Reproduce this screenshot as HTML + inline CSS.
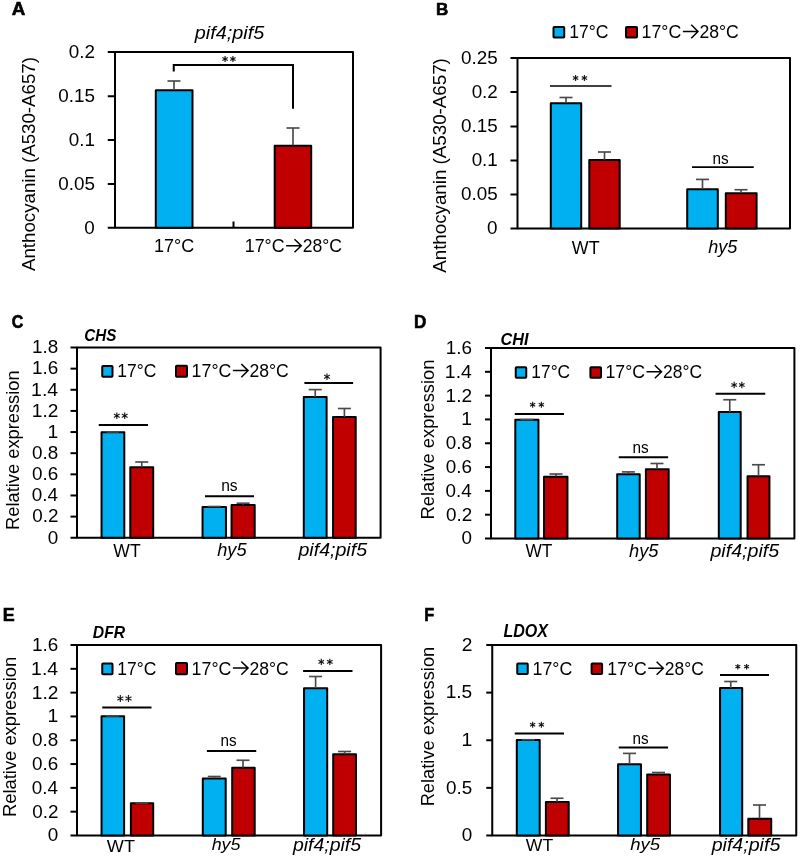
<!DOCTYPE html>
<html><head><meta charset="utf-8"><style>
html,body{margin:0;padding:0;background:#fff;width:800px;height:858px;overflow:hidden}
svg{display:block;will-change:transform}
text{font-family:"Liberation Sans",sans-serif;font-size:100px;fill:#000}
</style></head><body>
<svg width="800" height="858" viewBox="0 0 800 858">
<rect width="800" height="858" fill="#fff"/>
<path d="M115 227.75 L115 52 L353 52 L353 227.75 Z" fill="none" stroke="#000" stroke-width="2" stroke-linejoin="round"/>
<line x1="107.75" y1="227.75" x2="115" y2="227.75" stroke="#000" stroke-width="2" stroke-linecap="butt"/>
<line x1="107.75" y1="184" x2="115" y2="184" stroke="#000" stroke-width="2" stroke-linecap="butt"/>
<line x1="107.75" y1="140" x2="115" y2="140" stroke="#000" stroke-width="2" stroke-linecap="butt"/>
<line x1="107.75" y1="96.25" x2="115" y2="96.25" stroke="#000" stroke-width="2" stroke-linecap="butt"/>
<line x1="107.75" y1="52" x2="115" y2="52" stroke="#000" stroke-width="2" stroke-linecap="butt"/>
<line x1="233.5" y1="221.5" x2="233.5" y2="227.75" stroke="#000" stroke-width="2" stroke-linecap="butt"/>
<rect x="155.8" y="90.2" width="36.69999999999999" height="137.55" fill="#00B0F0" stroke="#000" stroke-width="2" stroke-linejoin="round"/>
<rect x="274.7" y="145.79999999999998" width="36.5" height="81.95000000000002" fill="#C00000" stroke="#000" stroke-width="2" stroke-linejoin="round"/>
<line x1="174" y1="81" x2="174" y2="90" stroke="#4a4a4a" stroke-width="1.65" stroke-linecap="butt"/>
<line x1="167.5" y1="81" x2="180.5" y2="81" stroke="#4a4a4a" stroke-width="1.65" stroke-linecap="butt"/>
<line x1="293" y1="128" x2="293" y2="145.6" stroke="#4a4a4a" stroke-width="1.65" stroke-linecap="butt"/>
<line x1="286.5" y1="128" x2="299.5" y2="128" stroke="#4a4a4a" stroke-width="1.65" stroke-linecap="butt"/>
<path d="M173.75 71.5 L173.75 65 L293 65 L293 108.75" fill="none" stroke="#000" stroke-width="2"/>
<path d="M225.08 55.90 L225.08 62.10 M222.40 57.45 L227.77 60.55 M222.40 60.55 L227.77 57.45 " fill="none" stroke="#222" stroke-width="1.2" stroke-linecap="butt"/><circle cx="225.08" cy="59.00" r="0.75" fill="#000"/>
<path d="M232.92 55.90 L232.92 62.10 M230.23 57.45 L235.60 60.55 M230.23 60.55 L235.60 57.45 " fill="none" stroke="#222" stroke-width="1.2" stroke-linecap="butt"/><circle cx="232.92" cy="59.00" r="0.75" fill="#000"/>
<path d="M286.10 245.74 L301.25 245.74 M294.51 239.24 L301.25 245.74 L294.51 252.24" fill="none" stroke="#000" stroke-width="1.5" stroke-linejoin="miter"/>
<rect x="553.5" y="27.0" width="10.75" height="10.5" fill="#00B0F0" stroke="#000" stroke-width="2" rx="0.8"/>
<rect x="626.0" y="27.0" width="11" height="10.5" fill="#C00000" stroke="#000" stroke-width="2" rx="0.8"/>
<path d="M682.85 31.48 L698.00 31.48 M691.26 24.73 L698.00 31.48 L691.26 38.23" fill="none" stroke="#000" stroke-width="1.5" stroke-linejoin="miter"/>
<path d="M517.5 228.5 L517.5 58 L790 58 L790 228.5 Z" fill="none" stroke="#000" stroke-width="2" stroke-linejoin="round"/>
<line x1="510.5" y1="228.5" x2="517.5" y2="228.5" stroke="#000" stroke-width="2" stroke-linecap="butt"/>
<line x1="510.5" y1="194.5" x2="517.5" y2="194.5" stroke="#000" stroke-width="2" stroke-linecap="butt"/>
<line x1="510.5" y1="160.5" x2="517.5" y2="160.5" stroke="#000" stroke-width="2" stroke-linecap="butt"/>
<line x1="510.5" y1="126.5" x2="517.5" y2="126.5" stroke="#000" stroke-width="2" stroke-linecap="butt"/>
<line x1="510.5" y1="92" x2="517.5" y2="92" stroke="#000" stroke-width="2" stroke-linecap="butt"/>
<line x1="510.5" y1="58" x2="517.5" y2="58" stroke="#000" stroke-width="2" stroke-linecap="butt"/>
<rect x="550.8" y="103.2" width="30.40000000000009" height="125.3" fill="#00B0F0" stroke="#000" stroke-width="2" stroke-linejoin="round"/>
<rect x="589.3" y="159.95" width="30.40000000000009" height="68.55000000000001" fill="#C00000" stroke="#000" stroke-width="2" stroke-linejoin="round"/>
<line x1="566" y1="97.5" x2="566" y2="103" stroke="#4a4a4a" stroke-width="1.65" stroke-linecap="butt"/>
<line x1="559.5" y1="97.5" x2="572.5" y2="97.5" stroke="#4a4a4a" stroke-width="1.65" stroke-linecap="butt"/>
<line x1="604.5" y1="152" x2="604.5" y2="159.75" stroke="#4a4a4a" stroke-width="1.65" stroke-linecap="butt"/>
<line x1="598.0" y1="152" x2="611.0" y2="152" stroke="#4a4a4a" stroke-width="1.65" stroke-linecap="butt"/>
<line x1="550" y1="86" x2="611.5" y2="86" stroke="#000" stroke-width="1.6" stroke-linecap="butt"/>
<path d="M575.58 74.90 L575.58 81.10 M572.90 76.45 L578.27 79.55 M572.90 79.55 L578.27 76.45 " fill="none" stroke="#222" stroke-width="1.2" stroke-linecap="butt"/><circle cx="575.58" cy="78.00" r="0.75" fill="#000"/>
<path d="M584.42 74.90 L584.42 81.10 M581.73 76.45 L587.10 79.55 M581.73 79.55 L587.10 76.45 " fill="none" stroke="#222" stroke-width="1.2" stroke-linecap="butt"/><circle cx="584.42" cy="78.00" r="0.75" fill="#000"/>
<rect x="687.1999999999999" y="189.2" width="30.600000000000136" height="39.30000000000001" fill="#00B0F0" stroke="#000" stroke-width="2" stroke-linejoin="round"/>
<rect x="725.8" y="193.29999999999998" width="30.800000000000068" height="35.20000000000002" fill="#C00000" stroke="#000" stroke-width="2" stroke-linejoin="round"/>
<line x1="702.5" y1="179.4" x2="702.5" y2="189" stroke="#4a4a4a" stroke-width="1.65" stroke-linecap="butt"/>
<line x1="696.0" y1="179.4" x2="709.0" y2="179.4" stroke="#4a4a4a" stroke-width="1.65" stroke-linecap="butt"/>
<line x1="741" y1="189.75" x2="741" y2="193.1" stroke="#4a4a4a" stroke-width="1.65" stroke-linecap="butt"/>
<line x1="734.5" y1="189.75" x2="747.5" y2="189.75" stroke="#4a4a4a" stroke-width="1.65" stroke-linecap="butt"/>
<line x1="692" y1="167.1" x2="753.75" y2="167.1" stroke="#000" stroke-width="1.6" stroke-linecap="butt"/>
<rect x="102.25" y="366.0" width="10.25" height="10.75" fill="#00B0F0" stroke="#000" stroke-width="2" rx="0.8"/>
<rect x="176.0" y="365.75" width="11" height="11.0" fill="#C00000" stroke="#000" stroke-width="2" rx="0.8"/>
<path d="M232.89 370.61 L248.06 370.61 M241.31 363.99 L248.06 370.61 L241.31 377.24" fill="none" stroke="#000" stroke-width="1.5" stroke-linejoin="miter"/>
<path d="M77 537.75 L77 347.5 L380.6 347.5 L380.6 537.75 Z" fill="none" stroke="#000" stroke-width="2" stroke-linejoin="round"/>
<line x1="70.5" y1="537.75" x2="77" y2="537.75" stroke="#000" stroke-width="2" stroke-linecap="butt"/>
<line x1="70.5" y1="516.6111111111111" x2="77" y2="516.6111111111111" stroke="#000" stroke-width="2" stroke-linecap="butt"/>
<line x1="70.5" y1="495.47222222222223" x2="77" y2="495.47222222222223" stroke="#000" stroke-width="2" stroke-linecap="butt"/>
<line x1="70.5" y1="474.3333333333333" x2="77" y2="474.3333333333333" stroke="#000" stroke-width="2" stroke-linecap="butt"/>
<line x1="70.5" y1="453.19444444444446" x2="77" y2="453.19444444444446" stroke="#000" stroke-width="2" stroke-linecap="butt"/>
<line x1="70.5" y1="432.05555555555554" x2="77" y2="432.05555555555554" stroke="#000" stroke-width="2" stroke-linecap="butt"/>
<line x1="70.5" y1="410.9166666666667" x2="77" y2="410.9166666666667" stroke="#000" stroke-width="2" stroke-linecap="butt"/>
<line x1="70.5" y1="389.77777777777777" x2="77" y2="389.77777777777777" stroke="#000" stroke-width="2" stroke-linecap="butt"/>
<line x1="70.5" y1="368.6388888888889" x2="77" y2="368.6388888888889" stroke="#000" stroke-width="2" stroke-linecap="butt"/>
<line x1="70.5" y1="347.5" x2="77" y2="347.5" stroke="#000" stroke-width="2" stroke-linecap="butt"/>
<rect x="101.55" y="432.2" width="22.75" height="105.55000000000001" fill="#00B0F0" stroke="#000" stroke-width="2" stroke-linejoin="round"/>
<rect x="130.3" y="467.3" width="22.899999999999977" height="70.44999999999999" fill="#C00000" stroke="#000" stroke-width="2" stroke-linejoin="round"/>
<line x1="112.9" y1="432" x2="112.9" y2="432" stroke="#4a4a4a" stroke-width="1.65" stroke-linecap="butt"/>
<line x1="106.65" y1="432" x2="119.15" y2="432" stroke="#4a4a4a" stroke-width="1.65" stroke-linecap="butt"/>
<line x1="141.75" y1="462" x2="141.75" y2="467.1" stroke="#4a4a4a" stroke-width="1.65" stroke-linecap="butt"/>
<line x1="135.25" y1="462" x2="148.25" y2="462" stroke="#4a4a4a" stroke-width="1.65" stroke-linecap="butt"/>
<line x1="98.75" y1="425" x2="148" y2="425" stroke="#000" stroke-width="2" stroke-linecap="butt"/>
<path d="M116.80 412.40 L116.80 419.10 M113.90 414.07 L119.70 417.43 M113.90 417.43 L119.70 414.07 " fill="none" stroke="#222" stroke-width="1.2" stroke-linecap="butt"/><circle cx="116.80" cy="415.75" r="0.75" fill="#000"/>
<path d="M124.70 412.40 L124.70 419.10 M121.80 414.07 L127.60 417.43 M121.80 417.43 L127.60 414.07 " fill="none" stroke="#222" stroke-width="1.2" stroke-linecap="butt"/><circle cx="124.70" cy="415.75" r="0.75" fill="#000"/>
<rect x="202.55" y="507.09999999999997" width="23.399999999999977" height="30.650000000000034" fill="#00B0F0" stroke="#000" stroke-width="2" stroke-linejoin="round"/>
<rect x="231.55" y="504.95" width="23.149999999999977" height="32.80000000000001" fill="#C00000" stroke="#000" stroke-width="2" stroke-linejoin="round"/>
<line x1="214.25" y1="506.5" x2="214.25" y2="506.9" stroke="#4a4a4a" stroke-width="1.65" stroke-linecap="butt"/>
<line x1="207.75" y1="506.5" x2="220.75" y2="506.5" stroke="#4a4a4a" stroke-width="1.65" stroke-linecap="butt"/>
<line x1="243.1" y1="503.2" x2="243.1" y2="504.75" stroke="#4a4a4a" stroke-width="1.65" stroke-linecap="butt"/>
<line x1="236.6" y1="503.2" x2="249.6" y2="503.2" stroke="#4a4a4a" stroke-width="1.65" stroke-linecap="butt"/>
<line x1="205" y1="496.25" x2="254" y2="496.25" stroke="#000" stroke-width="2" stroke-linecap="butt"/>
<rect x="303.8" y="397.09999999999997" width="22.799999999999955" height="140.65000000000003" fill="#00B0F0" stroke="#000" stroke-width="2" stroke-linejoin="round"/>
<rect x="333.05" y="417.09999999999997" width="22.649999999999977" height="120.65000000000003" fill="#C00000" stroke="#000" stroke-width="2" stroke-linejoin="round"/>
<line x1="315.25" y1="389.6" x2="315.25" y2="396.9" stroke="#4a4a4a" stroke-width="1.65" stroke-linecap="butt"/>
<line x1="308.75" y1="389.6" x2="321.75" y2="389.6" stroke="#4a4a4a" stroke-width="1.65" stroke-linecap="butt"/>
<line x1="344.4" y1="408.5" x2="344.4" y2="416.9" stroke="#4a4a4a" stroke-width="1.65" stroke-linecap="butt"/>
<line x1="337.9" y1="408.5" x2="350.9" y2="408.5" stroke="#4a4a4a" stroke-width="1.65" stroke-linecap="butt"/>
<line x1="304.4" y1="383.1" x2="353.1" y2="383.1" stroke="#000" stroke-width="2" stroke-linecap="butt"/>
<path d="M327.00 373.40 L327.00 380.10 M324.10 375.07 L329.90 378.43 M324.10 378.43 L329.90 375.07 " fill="none" stroke="#222" stroke-width="1.2" stroke-linecap="butt"/><circle cx="327.00" cy="376.75" r="0.75" fill="#000"/>
<rect x="515.75" y="367.25" width="10.5" height="10.5" fill="#00B0F0" stroke="#000" stroke-width="2" rx="0.8"/>
<rect x="590.4" y="367.25" width="10.600000000000023" height="10.5" fill="#C00000" stroke="#000" stroke-width="2" rx="0.8"/>
<path d="M646.48 371.74 L661.53 371.74 M654.83 365.24 L661.53 371.74 L654.83 378.24" fill="none" stroke="#000" stroke-width="1.5" stroke-linejoin="miter"/>
<path d="M491 538.5 L491 348 L794.4 348 L794.4 538.5 Z" fill="none" stroke="#000" stroke-width="2" stroke-linejoin="round"/>
<line x1="485" y1="538.5" x2="491" y2="538.5" stroke="#000" stroke-width="2" stroke-linecap="butt"/>
<line x1="485" y1="514.6875" x2="491" y2="514.6875" stroke="#000" stroke-width="2" stroke-linecap="butt"/>
<line x1="485" y1="490.875" x2="491" y2="490.875" stroke="#000" stroke-width="2" stroke-linecap="butt"/>
<line x1="485" y1="467.0625" x2="491" y2="467.0625" stroke="#000" stroke-width="2" stroke-linecap="butt"/>
<line x1="485" y1="443.25" x2="491" y2="443.25" stroke="#000" stroke-width="2" stroke-linecap="butt"/>
<line x1="485" y1="419.4375" x2="491" y2="419.4375" stroke="#000" stroke-width="2" stroke-linecap="butt"/>
<line x1="485" y1="395.625" x2="491" y2="395.625" stroke="#000" stroke-width="2" stroke-linecap="butt"/>
<line x1="485" y1="371.8125" x2="491" y2="371.8125" stroke="#000" stroke-width="2" stroke-linecap="butt"/>
<line x1="485" y1="348.0" x2="491" y2="348.0" stroke="#000" stroke-width="2" stroke-linecap="butt"/>
<rect x="515.3" y="419.8" width="23.15000000000009" height="118.69999999999999" fill="#00B0F0" stroke="#000" stroke-width="2" stroke-linejoin="round"/>
<rect x="544.05" y="476.7" width="23.40000000000009" height="61.80000000000001" fill="#C00000" stroke="#000" stroke-width="2" stroke-linejoin="round"/>
<line x1="526.9" y1="419.6" x2="526.9" y2="419.6" stroke="#4a4a4a" stroke-width="1.65" stroke-linecap="butt"/>
<line x1="520.4" y1="419.6" x2="533.4" y2="419.6" stroke="#4a4a4a" stroke-width="1.65" stroke-linecap="butt"/>
<line x1="556" y1="474" x2="556" y2="476.5" stroke="#4a4a4a" stroke-width="1.65" stroke-linecap="butt"/>
<line x1="549.5" y1="474" x2="562.5" y2="474" stroke="#4a4a4a" stroke-width="1.65" stroke-linecap="butt"/>
<line x1="514.75" y1="414.1" x2="564" y2="414.1" stroke="#000" stroke-width="2" stroke-linecap="butt"/>
<path d="M532.62 401.80 L532.62 407.85 M530.00 403.31 L535.24 406.34 M530.00 406.34 L535.24 403.31 " fill="none" stroke="#222" stroke-width="1.2" stroke-linecap="butt"/><circle cx="532.62" cy="404.82" r="0.75" fill="#000"/>
<path d="M541.38 401.80 L541.38 407.85 M538.76 403.31 L544.00 406.34 M538.76 406.34 L544.00 403.31 " fill="none" stroke="#222" stroke-width="1.2" stroke-linecap="butt"/><circle cx="541.38" cy="404.82" r="0.75" fill="#000"/>
<rect x="617.1999999999999" y="474.2" width="22.500000000000114" height="64.30000000000001" fill="#00B0F0" stroke="#000" stroke-width="2" stroke-linejoin="round"/>
<rect x="645.9" y="469.2" width="22.800000000000068" height="69.30000000000001" fill="#C00000" stroke="#000" stroke-width="2" stroke-linejoin="round"/>
<line x1="628.4" y1="471.9" x2="628.4" y2="474" stroke="#4a4a4a" stroke-width="1.65" stroke-linecap="butt"/>
<line x1="621.9" y1="471.9" x2="634.9" y2="471.9" stroke="#4a4a4a" stroke-width="1.65" stroke-linecap="butt"/>
<line x1="657" y1="463.5" x2="657" y2="469" stroke="#4a4a4a" stroke-width="1.65" stroke-linecap="butt"/>
<line x1="650.5" y1="463.5" x2="663.5" y2="463.5" stroke="#4a4a4a" stroke-width="1.65" stroke-linecap="butt"/>
<line x1="618.75" y1="457.25" x2="668.1" y2="457.25" stroke="#000" stroke-width="2" stroke-linecap="butt"/>
<rect x="718.8" y="412.09999999999997" width="21.90000000000009" height="126.40000000000003" fill="#00B0F0" stroke="#000" stroke-width="2" stroke-linejoin="round"/>
<rect x="747.55" y="476.2" width="21.90000000000009" height="62.30000000000001" fill="#C00000" stroke="#000" stroke-width="2" stroke-linejoin="round"/>
<line x1="729.75" y1="399.75" x2="729.75" y2="411.9" stroke="#4a4a4a" stroke-width="1.65" stroke-linecap="butt"/>
<line x1="723.25" y1="399.75" x2="736.25" y2="399.75" stroke="#4a4a4a" stroke-width="1.65" stroke-linecap="butt"/>
<line x1="758.5" y1="464.75" x2="758.5" y2="476" stroke="#4a4a4a" stroke-width="1.65" stroke-linecap="butt"/>
<line x1="752.0" y1="464.75" x2="765.0" y2="464.75" stroke="#4a4a4a" stroke-width="1.65" stroke-linecap="butt"/>
<line x1="715.6" y1="393.75" x2="765.25" y2="393.75" stroke="#000" stroke-width="2" stroke-linecap="butt"/>
<path d="M734.17 381.80 L734.17 388.20 M731.40 383.40 L736.94 386.60 M731.40 386.60 L736.94 383.40 " fill="none" stroke="#222" stroke-width="1.2" stroke-linecap="butt"/><circle cx="734.17" cy="385.00" r="0.75" fill="#000"/>
<path d="M741.83 381.80 L741.83 388.20 M739.06 383.40 L744.60 386.60 M739.06 386.60 L744.60 383.40 " fill="none" stroke="#222" stroke-width="1.2" stroke-linecap="butt"/><circle cx="741.83" cy="385.00" r="0.75" fill="#000"/>
<rect x="102.25" y="663.5" width="10.25" height="10.75" fill="#00B0F0" stroke="#000" stroke-width="2" rx="0.8"/>
<rect x="176.0" y="663.0" width="11" height="11.25" fill="#C00000" stroke="#000" stroke-width="2" rx="0.8"/>
<path d="M232.89 668.11 L248.06 668.11 M241.31 661.49 L248.06 668.11 L241.31 674.74" fill="none" stroke="#000" stroke-width="1.5" stroke-linejoin="miter"/>
<path d="M77 835.5 L77 645 L381.1 645 L381.1 835.5 Z" fill="none" stroke="#000" stroke-width="2" stroke-linejoin="round"/>
<line x1="70.5" y1="835.5" x2="77" y2="835.5" stroke="#000" stroke-width="2" stroke-linecap="butt"/>
<line x1="70.5" y1="811.6875" x2="77" y2="811.6875" stroke="#000" stroke-width="2" stroke-linecap="butt"/>
<line x1="70.5" y1="787.875" x2="77" y2="787.875" stroke="#000" stroke-width="2" stroke-linecap="butt"/>
<line x1="70.5" y1="764.0625" x2="77" y2="764.0625" stroke="#000" stroke-width="2" stroke-linecap="butt"/>
<line x1="70.5" y1="740.25" x2="77" y2="740.25" stroke="#000" stroke-width="2" stroke-linecap="butt"/>
<line x1="70.5" y1="716.4375" x2="77" y2="716.4375" stroke="#000" stroke-width="2" stroke-linecap="butt"/>
<line x1="70.5" y1="692.625" x2="77" y2="692.625" stroke="#000" stroke-width="2" stroke-linecap="butt"/>
<line x1="70.5" y1="668.8125" x2="77" y2="668.8125" stroke="#000" stroke-width="2" stroke-linecap="butt"/>
<line x1="70.5" y1="645.0" x2="77" y2="645.0" stroke="#000" stroke-width="2" stroke-linecap="butt"/>
<rect x="101.55" y="716.2" width="22.55000000000001" height="119.29999999999995" fill="#00B0F0" stroke="#000" stroke-width="2" stroke-linejoin="round"/>
<rect x="130.9" y="803.2" width="22.299999999999983" height="32.299999999999955" fill="#C00000" stroke="#000" stroke-width="2" stroke-linejoin="round"/>
<line x1="112.8" y1="716" x2="112.8" y2="716" stroke="#4a4a4a" stroke-width="1.65" stroke-linecap="butt"/>
<line x1="106.3" y1="716" x2="119.3" y2="716" stroke="#4a4a4a" stroke-width="1.65" stroke-linecap="butt"/>
<line x1="142" y1="803" x2="142" y2="803" stroke="#4a4a4a" stroke-width="1.65" stroke-linecap="butt"/>
<line x1="135.5" y1="803" x2="148.5" y2="803" stroke="#4a4a4a" stroke-width="1.65" stroke-linecap="butt"/>
<line x1="102.25" y1="707.5" x2="151.5" y2="707.5" stroke="#000" stroke-width="2" stroke-linecap="butt"/>
<path d="M120.33 695.00 L120.33 702.00 M117.30 696.75 L123.36 700.25 M117.30 700.25 L123.36 696.75 " fill="none" stroke="#222" stroke-width="1.2" stroke-linecap="butt"/><circle cx="120.33" cy="698.50" r="0.75" fill="#000"/>
<path d="M128.47 695.00 L128.47 702.00 M125.44 696.75 L131.50 700.25 M125.44 700.25 L131.50 696.75 " fill="none" stroke="#222" stroke-width="1.2" stroke-linecap="butt"/><circle cx="128.47" cy="698.50" r="0.75" fill="#000"/>
<rect x="202.8" y="778.6" width="22.899999999999977" height="56.89999999999998" fill="#00B0F0" stroke="#000" stroke-width="2" stroke-linejoin="round"/>
<rect x="232.20000000000002" y="767.7" width="22.49999999999997" height="67.79999999999995" fill="#C00000" stroke="#000" stroke-width="2" stroke-linejoin="round"/>
<line x1="214.25" y1="776.5" x2="214.25" y2="778.4" stroke="#4a4a4a" stroke-width="1.65" stroke-linecap="butt"/>
<line x1="207.75" y1="776.5" x2="220.75" y2="776.5" stroke="#4a4a4a" stroke-width="1.65" stroke-linecap="butt"/>
<line x1="243" y1="760.25" x2="243" y2="767.5" stroke="#4a4a4a" stroke-width="1.65" stroke-linecap="butt"/>
<line x1="236.5" y1="760.25" x2="249.5" y2="760.25" stroke="#4a4a4a" stroke-width="1.65" stroke-linecap="butt"/>
<line x1="206.9" y1="751" x2="256.25" y2="751" stroke="#000" stroke-width="2" stroke-linecap="butt"/>
<rect x="304.05" y="688.2" width="23.149999999999977" height="147.29999999999995" fill="#00B0F0" stroke="#000" stroke-width="2" stroke-linejoin="round"/>
<rect x="333.2" y="754.3000000000001" width="22.75" height="81.19999999999993" fill="#C00000" stroke="#000" stroke-width="2" stroke-linejoin="round"/>
<line x1="315.6" y1="676.5" x2="315.6" y2="688" stroke="#4a4a4a" stroke-width="1.65" stroke-linecap="butt"/>
<line x1="309.1" y1="676.5" x2="322.1" y2="676.5" stroke="#4a4a4a" stroke-width="1.65" stroke-linecap="butt"/>
<line x1="344.6" y1="751.5" x2="344.6" y2="754.1" stroke="#4a4a4a" stroke-width="1.65" stroke-linecap="butt"/>
<line x1="338.1" y1="751.5" x2="351.1" y2="751.5" stroke="#4a4a4a" stroke-width="1.65" stroke-linecap="butt"/>
<line x1="303.1" y1="671" x2="352.5" y2="671" stroke="#000" stroke-width="2" stroke-linecap="butt"/>
<path d="M321.29 658.65 L321.29 665.10 M318.50 660.26 L324.09 663.49 M318.50 663.49 L324.09 660.26 " fill="none" stroke="#222" stroke-width="1.2" stroke-linecap="butt"/><circle cx="321.29" cy="661.88" r="0.75" fill="#000"/>
<path d="M329.81 658.65 L329.81 665.10 M327.01 660.26 L332.60 663.49 M327.01 663.49 L332.60 660.26 " fill="none" stroke="#222" stroke-width="1.2" stroke-linecap="butt"/><circle cx="329.81" cy="661.88" r="0.75" fill="#000"/>
<rect x="517.25" y="663.5" width="10.5" height="10.5" fill="#00B0F0" stroke="#000" stroke-width="2" rx="0.8"/>
<rect x="591.6" y="663.5" width="10.5" height="10.5" fill="#C00000" stroke="#000" stroke-width="2" rx="0.8"/>
<path d="M648.29 668.24 L663.32 668.24 M656.63 661.74 L663.32 668.24 L656.63 674.74" fill="none" stroke="#000" stroke-width="1.5" stroke-linejoin="miter"/>
<path d="M492.25 835.5 L492.25 645 L796.25 645 L796.25 835.5 Z" fill="none" stroke="#000" stroke-width="2" stroke-linejoin="round"/>
<line x1="486.25" y1="835.5" x2="492.25" y2="835.5" stroke="#000" stroke-width="2" stroke-linecap="butt"/>
<line x1="486.25" y1="787.875" x2="492.25" y2="787.875" stroke="#000" stroke-width="2" stroke-linecap="butt"/>
<line x1="486.25" y1="740.25" x2="492.25" y2="740.25" stroke="#000" stroke-width="2" stroke-linecap="butt"/>
<line x1="486.25" y1="692.625" x2="492.25" y2="692.625" stroke="#000" stroke-width="2" stroke-linecap="butt"/>
<line x1="486.25" y1="645.0" x2="492.25" y2="645.0" stroke="#000" stroke-width="2" stroke-linecap="butt"/>
<rect x="516.8" y="739.95" width="22.90000000000009" height="95.54999999999995" fill="#00B0F0" stroke="#000" stroke-width="2" stroke-linejoin="round"/>
<rect x="545.9" y="801.95" width="22.800000000000068" height="33.549999999999955" fill="#C00000" stroke="#000" stroke-width="2" stroke-linejoin="round"/>
<line x1="528.25" y1="739.75" x2="528.25" y2="739.75" stroke="#4a4a4a" stroke-width="1.65" stroke-linecap="butt"/>
<line x1="521.75" y1="739.75" x2="534.75" y2="739.75" stroke="#4a4a4a" stroke-width="1.65" stroke-linecap="butt"/>
<line x1="557" y1="798.25" x2="557" y2="801.75" stroke="#4a4a4a" stroke-width="1.65" stroke-linecap="butt"/>
<line x1="550.5" y1="798.25" x2="563.5" y2="798.25" stroke="#4a4a4a" stroke-width="1.65" stroke-linecap="butt"/>
<line x1="514.75" y1="733.5" x2="564" y2="733.5" stroke="#000" stroke-width="2" stroke-linecap="butt"/>
<path d="M532.62 721.80 L532.62 727.85 M530.00 723.31 L535.24 726.34 M530.00 726.34 L535.24 723.31 " fill="none" stroke="#222" stroke-width="1.2" stroke-linecap="butt"/><circle cx="532.62" cy="724.83" r="0.75" fill="#000"/>
<path d="M541.38 721.80 L541.38 727.85 M538.76 723.31 L544.00 726.34 M538.76 726.34 L544.00 723.31 " fill="none" stroke="#222" stroke-width="1.2" stroke-linecap="butt"/><circle cx="541.38" cy="724.83" r="0.75" fill="#000"/>
<rect x="618.05" y="764.2" width="22.90000000000009" height="71.29999999999995" fill="#00B0F0" stroke="#000" stroke-width="2" stroke-linejoin="round"/>
<rect x="647.1999999999999" y="774.6" width="22.750000000000114" height="60.89999999999998" fill="#C00000" stroke="#000" stroke-width="2" stroke-linejoin="round"/>
<line x1="629.5" y1="753.4" x2="629.5" y2="764" stroke="#4a4a4a" stroke-width="1.65" stroke-linecap="butt"/>
<line x1="623.0" y1="753.4" x2="636.0" y2="753.4" stroke="#4a4a4a" stroke-width="1.65" stroke-linecap="butt"/>
<line x1="658.5" y1="772.5" x2="658.5" y2="774.4" stroke="#4a4a4a" stroke-width="1.65" stroke-linecap="butt"/>
<line x1="652.0" y1="772.5" x2="665.0" y2="772.5" stroke="#4a4a4a" stroke-width="1.65" stroke-linecap="butt"/>
<line x1="618.75" y1="747.5" x2="668.1" y2="747.5" stroke="#000" stroke-width="2" stroke-linecap="butt"/>
<rect x="720.05" y="688.1" width="22.15000000000009" height="147.39999999999998" fill="#00B0F0" stroke="#000" stroke-width="2" stroke-linejoin="round"/>
<rect x="748.3" y="818.7" width="22.90000000000009" height="16.799999999999955" fill="#C00000" stroke="#000" stroke-width="2" stroke-linejoin="round"/>
<line x1="730.75" y1="681.5" x2="730.75" y2="687.9" stroke="#4a4a4a" stroke-width="1.65" stroke-linecap="butt"/>
<line x1="724.25" y1="681.5" x2="737.25" y2="681.5" stroke="#4a4a4a" stroke-width="1.65" stroke-linecap="butt"/>
<line x1="759.5" y1="805" x2="759.5" y2="818.5" stroke="#4a4a4a" stroke-width="1.65" stroke-linecap="butt"/>
<line x1="753.0" y1="805" x2="766.0" y2="805" stroke="#4a4a4a" stroke-width="1.65" stroke-linecap="butt"/>
<line x1="720" y1="675" x2="769" y2="675" stroke="#000" stroke-width="2" stroke-linecap="butt"/>
<path d="M737.82 663.90 L737.82 669.50 M735.40 665.30 L740.25 668.10 M735.40 668.10 L740.25 665.30 " fill="none" stroke="#222" stroke-width="1.2" stroke-linecap="butt"/><circle cx="737.82" cy="666.70" r="0.75" fill="#000"/>
<path d="M746.58 663.90 L746.58 669.50 M744.15 665.30 L749.00 668.10 M744.15 668.10 L749.00 665.30 " fill="none" stroke="#222" stroke-width="1.2" stroke-linecap="butt"/><circle cx="746.58" cy="666.70" r="0.75" fill="#000"/>
<text transform="matrix(0.18788 0 0 0.17500 11.736 14.875)" font-weight="bold" stroke="#000" stroke-width="3.31" stroke-linejoin="miter">A</text>
<text transform="matrix(0.19830 0 0 0.18511 194.797 39.113)" font-style="italic">pif4;pif5</text>
<text transform="matrix(0.18009 0 0 0.18310 154.059 252.317)">17°C</text>
<text transform="matrix(0.17807 0 0 0.18310 244.825 252.317)">17°C</text>
<text transform="matrix(0.17602 0 0 0.18310 302.702 252.317)">28°C</text>
<text transform="matrix(0 -0.18701 0.19149 0 34.729 271.000)">Anthocyanin (A530-A657)</text>
<text transform="matrix(0.17049 0 0 0.17246 436.107 14.700)" font-weight="bold" stroke="#000" stroke-width="3.50" stroke-linejoin="miter">B</text>
<text transform="matrix(0.17607 0 0 0.19014 569.191 38.310)">17°C</text>
<text transform="matrix(0.17807 0 0 0.19014 641.575 38.310)">17°C</text>
<text transform="matrix(0.17602 0 0 0.19014 699.452 38.310)">28°C</text>
<text transform="matrix(0.15368 0 0 0.15909 712.424 163.591)">ns</text>
<text transform="matrix(0.17895 0 0 0.18986 571.821 253.600)">WT</text>
<text transform="matrix(0.18082 0 0 0.18085 708.138 253.202)" font-style="italic">hy5</text>
<text transform="matrix(0 -0.18745 0.19149 0 445.979 272.750)">Anthocyanin (A530-A657)</text>
<text transform="matrix(0.16000 0 0 0.17465 11.660 327.525)" font-weight="bold" stroke="#000" stroke-width="3.59" stroke-linejoin="miter">C</text>
<text transform="matrix(0.15244 0 0 0.16690 84.238 341.083)" font-weight="bold" font-style="italic">CHS</text>
<text transform="matrix(0.17464 0 0 0.18310 117.353 377.317)">17°C</text>
<text transform="matrix(0.17826 0 0 0.18662 191.574 377.313)">17°C</text>
<text transform="matrix(0.17620 0 0 0.18662 249.512 377.313)">28°C</text>
<text transform="matrix(0.15632 0 0 0.15909 221.156 491.091)">ns</text>
<text transform="matrix(0.17599 0 0 0.18116 113.324 556.900)">WT</text>
<text transform="matrix(0.18239 0 0 0.18085 217.135 556.202)" font-style="italic">hy5</text>
<text transform="matrix(0.19589 0 0 0.17553 298.492 556.314)" font-style="italic">pif4;pif5</text>
<text transform="matrix(0 -0.18298 0.17926 0 19.336 529.964)">Relative expression</text>
<text transform="matrix(0.17049 0 0 0.17971 414.107 327.700)" font-weight="bold" stroke="#000" stroke-width="3.43" stroke-linejoin="miter">D</text>
<text transform="matrix(0.16272 0 0 0.16901 500.436 344.581)" font-weight="bold" font-style="italic">CHI</text>
<text transform="matrix(0.17370 0 0 0.18310 531.360 378.317)">17°C</text>
<text transform="matrix(0.17685 0 0 0.18310 605.485 378.317)">17°C</text>
<text transform="matrix(0.17481 0 0 0.18310 662.966 378.317)">28°C</text>
<text transform="matrix(0.15368 0 0 0.17000 632.424 452.930)">ns</text>
<text transform="matrix(0.17303 0 0 0.17754 525.427 557.250)">WT</text>
<text transform="matrix(0.18302 0 0 0.18085 629.034 556.702)" font-style="italic">hy5</text>
<text transform="matrix(0.19660 0 0 0.19149 710.393 556.979)" font-style="italic">pif4;pif5</text>
<text transform="matrix(0 -0.18328 0.18617 0 434.190 519.466)">Relative expression</text>
<text transform="matrix(0.17946 0 0 0.18188 2.794 620.950)" font-weight="bold" stroke="#000" stroke-width="3.32" stroke-linejoin="miter">E</text>
<text transform="matrix(0.15714 0 0 0.16304 92.786 637.500)" font-weight="bold" font-style="italic">DFR</text>
<text transform="matrix(0.17464 0 0 0.18310 117.353 674.817)">17°C</text>
<text transform="matrix(0.17826 0 0 0.18662 191.574 674.813)">17°C</text>
<text transform="matrix(0.17620 0 0 0.18662 249.512 674.813)">28°C</text>
<text transform="matrix(0.15263 0 0 0.16364 220.432 746.336)">ns</text>
<text transform="matrix(0.18092 0 0 0.15942 106.819 851.500)">WT</text>
<text transform="matrix(0.17925 0 0 0.15957 211.642 849.649)" font-style="italic">hy5</text>
<text transform="matrix(0.19476 0 0 0.18085 292.890 851.202)" font-style="italic">pif4;pif5</text>
<text transform="matrix(0 -0.18357 0.17979 0 16.224 816.969)">Relative expression</text>
<text transform="matrix(0.16300 0 0 0.18188 424.159 620.950)" font-weight="bold" stroke="#000" stroke-width="3.48" stroke-linejoin="miter">F</text>
<text transform="matrix(0.16071 0 0 0.17606 503.429 637.324)" font-weight="bold" font-style="italic">LDOX</text>
<text transform="matrix(0.17773 0 0 0.18310 532.578 674.817)">17°C</text>
<text transform="matrix(0.17666 0 0 0.18310 607.337 674.817)">17°C</text>
<text transform="matrix(0.17463 0 0 0.18310 664.757 674.817)">28°C</text>
<text transform="matrix(0.15263 0 0 0.17000 632.432 743.580)">ns</text>
<text transform="matrix(0.17599 0 0 0.16957 525.824 851.100)">WT</text>
<text transform="matrix(0.18553 0 0 0.15957 630.129 849.649)" font-style="italic">hy5</text>
<text transform="matrix(0.19618 0 0 0.18085 711.642 851.202)" font-style="italic">pif4;pif5</text>
<text transform="matrix(0 -0.18316 0.17979 0 433.724 806.365)">Relative expression</text>
<text transform="matrix(0.18859 0 0 0.18310 84.293 233.567)">0</text>
<text transform="matrix(0.18859 0 0 0.18310 58.268 189.817)">0.05</text>
<text transform="matrix(0.18859 0 0 0.18310 68.829 145.817)">0.1</text>
<text transform="matrix(0.18859 0 0 0.18310 58.268 102.067)">0.15</text>
<text transform="matrix(0.18859 0 0 0.18310 68.829 57.817)">0.2</text>
<text transform="matrix(0.18859 0 0 0.18310 487.093 234.317)">0</text>
<text transform="matrix(0.18859 0 0 0.18310 461.068 200.317)">0.05</text>
<text transform="matrix(0.18859 0 0 0.18310 471.629 166.317)">0.1</text>
<text transform="matrix(0.18859 0 0 0.18310 461.068 132.317)">0.15</text>
<text transform="matrix(0.18859 0 0 0.18310 471.629 97.817)">0.2</text>
<text transform="matrix(0.18859 0 0 0.18310 461.068 63.817)">0.25</text>
<text transform="matrix(0.18859 0 0 0.18310 47.693 543.567)">0</text>
<text transform="matrix(0.18859 0 0 0.18310 32.229 522.428)">0.2</text>
<text transform="matrix(0.18859 0 0 0.18310 31.852 501.289)">0.4</text>
<text transform="matrix(0.18859 0 0 0.18310 32.040 480.150)">0.6</text>
<text transform="matrix(0.18859 0 0 0.18310 32.040 459.011)">0.8</text>
<text transform="matrix(0.19406 0 0 0.18841 47.603 438.056)">1</text>
<text transform="matrix(0.19129 0 0 0.18571 31.868 416.917)">1.2</text>
<text transform="matrix(0.19406 0 0 0.18841 31.108 395.778)">1.4</text>
<text transform="matrix(0.18859 0 0 0.18310 32.040 374.456)">1.6</text>
<text transform="matrix(0.18859 0 0 0.18310 32.040 353.317)">1.8</text>
<text transform="matrix(0.18859 0 0 0.18310 461.443 544.317)">0</text>
<text transform="matrix(0.18859 0 0 0.18310 445.979 520.504)">0.2</text>
<text transform="matrix(0.18859 0 0 0.18310 445.602 496.692)">0.4</text>
<text transform="matrix(0.18859 0 0 0.18310 445.790 472.879)">0.6</text>
<text transform="matrix(0.18859 0 0 0.18310 445.790 449.067)">0.8</text>
<text transform="matrix(0.19406 0 0 0.18841 461.353 425.438)">1</text>
<text transform="matrix(0.19129 0 0 0.18571 445.618 401.625)">1.2</text>
<text transform="matrix(0.19406 0 0 0.18841 444.858 377.812)">1.4</text>
<text transform="matrix(0.18859 0 0 0.18310 445.790 353.817)">1.6</text>
<text transform="matrix(0.18859 0 0 0.18310 47.693 841.317)">0</text>
<text transform="matrix(0.18859 0 0 0.18310 32.229 817.504)">0.2</text>
<text transform="matrix(0.18859 0 0 0.18310 31.852 793.692)">0.4</text>
<text transform="matrix(0.18859 0 0 0.18310 32.040 769.879)">0.6</text>
<text transform="matrix(0.18859 0 0 0.18310 32.040 746.067)">0.8</text>
<text transform="matrix(0.19406 0 0 0.18841 47.603 722.438)">1</text>
<text transform="matrix(0.19129 0 0 0.18571 31.868 698.625)">1.2</text>
<text transform="matrix(0.19406 0 0 0.18841 31.108 674.812)">1.4</text>
<text transform="matrix(0.18859 0 0 0.18310 32.040 650.817)">1.6</text>
<text transform="matrix(0.18859 0 0 0.18310 461.693 841.317)">0</text>
<text transform="matrix(0.18859 0 0 0.18310 446.040 793.692)">0.5</text>
<text transform="matrix(0.19406 0 0 0.18841 461.603 746.250)">1</text>
<text transform="matrix(0.19129 0 0 0.18571 445.676 698.439)">1.5</text>
<text transform="matrix(0.19129 0 0 0.18571 461.744 651.000)">2</text>
</svg>
</body></html>
